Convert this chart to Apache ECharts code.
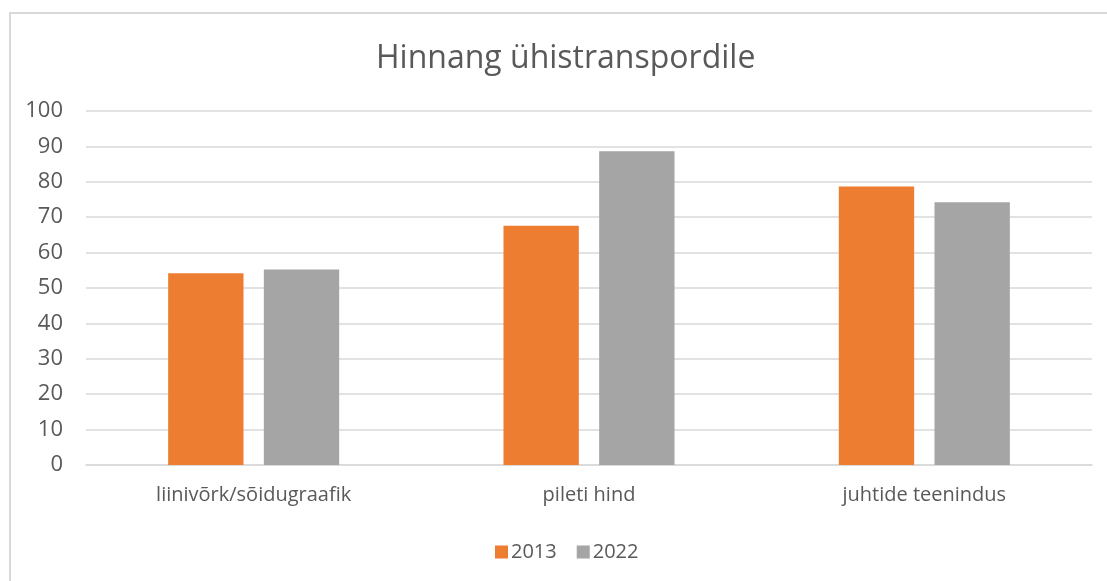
<!DOCTYPE html>
<html>
<head>
<meta charset="utf-8">
<script src="https://cdn.jsdelivr.net/npm/echarts@6/dist/echarts.min.js"></script>
<style>
    html, body { margin: 0; padding: 0; background: #fff; }
    #frame {
        position: absolute; left: 9px; top: 12px; width: 1110px; height: 580px;
        border-left: 2px solid #d9d9d9; border-top: 2px solid #d9d9d9;
    }
    #chart { position: absolute; left: 0; top: 0; width: 1107px; height: 581px; }
</style>
</head>
<body>
<div id="frame"></div>
<div id="chart"></div>
<script>
const categories = ["liinivõrk/sõidugraafik", "pileti hind", "juhtide teenindus"];
const values2013 = [54.2, 67.6, 78.7];
const values2022 = [55.2, 88.6, 74.2];
const seriesNames = ["2013", "2022"];

document.addEventListener("DOMContentLoaded", function () {
    const chartEl = document.getElementById("chart");
    const chart = echarts.init(chartEl);
    const textColor = "#595959";
    const font = "Open Sans";

    chart.setOption({
        animation: false,
        title: {
            text: "Hinnang ühistranspordile",
            left: 376,
            top: 43,
            padding: 0,
            textStyle: {
                fontFamily: font,
                fontSize: 32,
                fontWeight: "normal",
                color: textColor
            }
        },
        legend: {
            data: seriesNames,
            top: 537,
            left: 490,
            itemWidth: 13,
            itemHeight: 13,
            itemGap: 20,
            icon: "rect",
            textStyle: {
                fontFamily: font,
                fontSize: 20,
                color: textColor,
                padding: [0, 0, 0, -2]
            }
        },
        grid: {
            left: 86,
            right: 15,
            top: 111,
            bottom: 116,
            containLabel: false
        },
        xAxis: {
            type: "category",
            data: categories,
            axisTick: { show: false },
            axisLine: { lineStyle: { color: "#d9d9d9", width: 1.5 } },
            axisLabel: {
                margin: 20,
                fontFamily: font,
                fontSize: 20,
                color: textColor
            }
        },
        yAxis: {
            type: "value",
            min: 0,
            max: 100,
            interval: 10,
            axisLine: { show: false },
            axisTick: { show: false },
            splitLine: { lineStyle: { color: "#d9d9d9", width: 1.5 } },
            axisLabel: {
                margin: 23,
                fontFamily: font,
                fontSize: 22,
                color: textColor
            }
        },
        series: [
            {
                name: seriesNames[0],
                type: "bar",
                data: values2013,
                barGap: "27%",
                barCategoryGap: "49%",
                itemStyle: { color: "#ed7d31" }
            },
            {
                name: seriesNames[1],
                type: "bar",
                data: values2022,
                itemStyle: { color: "#a5a5a5" }
            }
        ]
    });

    window.addEventListener("resize", () => chart.resize());
});
</script>
</body>
</html>
